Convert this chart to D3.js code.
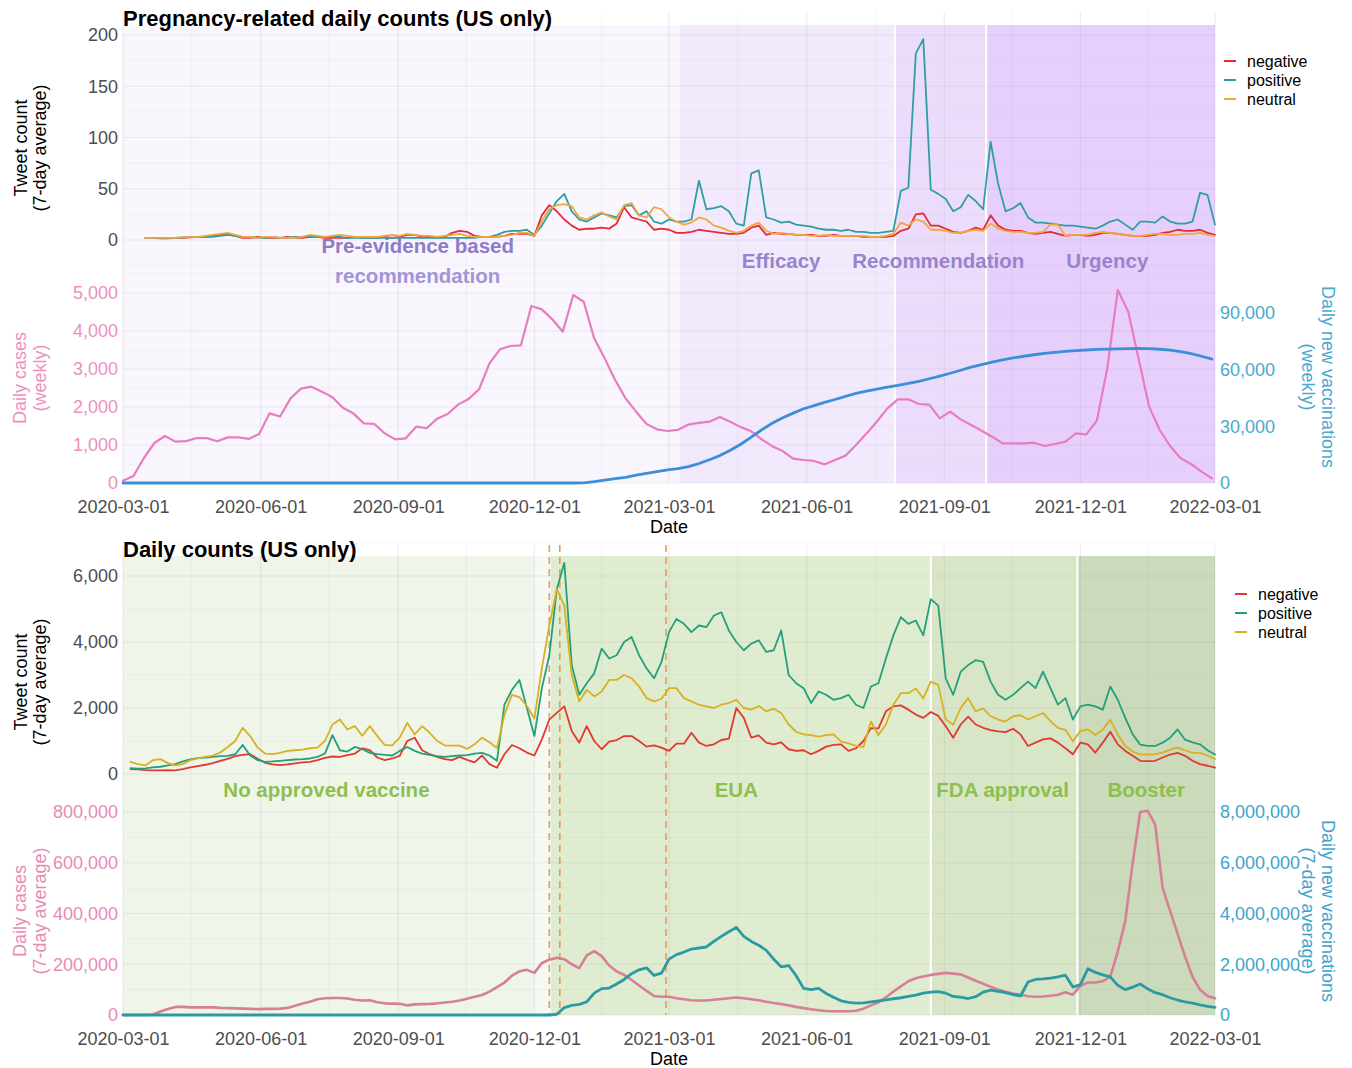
<!DOCTYPE html>
<html><head><meta charset="utf-8">
<script src="https://cdn.jsdelivr.net/npm/d3@7"></script>
<style>body{margin:0;background:#fff}svg{font-family:"Liberation Sans",Arial,sans-serif}</style>
</head><body><svg id="c" width="1352" height="1068"></svg>
<script>
// ---------------- DATA ----------------
const xTickDates = ["2020-03-01","2020-06-01","2020-09-01","2020-12-01","2021-03-01","2021-06-01","2021-09-01","2021-12-01","2022-03-01"];
const seriesNames = ["negative","positive","neutral"];

// Top panel (pregnancy-related) tweets: 5-day samples from 2020-03-16
const topTweetStart = "2020-03-16";
const negTop = [2,2,1.5,1.5,2,2,2.5,3,3,4, 5,6,4, 2,2,3,2,2,2,3,2, 2,3,3,2,2,2,2,3,2,2, 2,3,2,3,5,5,3,3,2,3, 7,9,8,4,3,3, 3,4,6,6,6,4,
 24,34,28,20,14,10,11,11, 12,11,16,32,22,20,18,10,11,10, 7,7,8,10,9,8,7,6,6,7, 12,14,5,7,6,6,5,5,5,4, 4,5,4,4,4,3,3,3,3,4,
 9,11,25,26,14,14,11,8,7,9, 12,10,24,14,10,9,9,7,6,7, 8,6,4,5,5,4,5,7,7,6, 5,4,4,4,5,7,8,10,9,9, 10,7,5];
const posTop = [2,2,2,2,2,2.5,3,3,3,3, 4,5,4, 3,3,2,2,3,2,2,3, 3,4,3,3,3,3,2,2,2,2, 2,2,2,2,2,2,2,2,2,2, 2,2,2,2,3,3, 5,8,9,9,10,5,
 14,26,38,45,28,20,18,22, 26,24,22,33,34,24,28,18,16,20, 18,18,20,58,30,31,33,28,16,14, 65,68,22,20,17,18,15,14,13,11, 10,10,9,10,8,8,7,7,8,9,
 48,51,182,196,49,45,40,28,32,44, 38,30,96,55,28,31,36,22,17,17, 16,15,14,14,13,12,11,14,18,20, 15,10,18,18,17,23,18,16,16,18, 46,44,15];
const neuTop = [2,2,2,2,2,2.5,3,3,4,5, 6,7,5, 3,3,2,3,3,2,2,2, 3,5,4,3,4,5,4,3,3,3, 3,4,5,4,6,5,4,4,3,4, 5,6,4,3,3,3, 3,4,5,7,7,4,
 18,30,34,35,33,22,20,24, 27,23,20,34,36,24,22,32,30,22, 18,15,17,22,20,14,12,9,7,9, 14,17,9,6,7,6,5,5,4,4, 5,4,4,4,4,4,3,3,4,6,
 17,14,20,18,10,10,9,7,7,9, 10,9,16,11,9,8,8,7,7,8, 15,15,4,5,5,5,7,8,7,6, 5,4,4,5,6,6,5,5,6,6, 7,5,4];

// Top panel cases & vaccinations (weekly) from 2020-03-01
const topWeeklyStart = "2020-03-01";
const casesTop = [60,184,658,1053,1237,1088,1100,1180,1180,1100, 1200,1200,1160,1290,1833,1750,2228,2483,2535,2404,
 2255,1982,1833,1570,1553,1307,1149,1175,1482,1440, 1693,1816,2062,2210,2465,3149,3518,3605,3623,4658,
 4570,4307,3982,4947,4771,3807,3280,2710,2228,1877, 1553,1412,1368,1400,1540,1580,1614,1740,1614,1470,
 1360,1150,970,840,640,605,580,491,605,720, 1000,1300,1620,1965,2202,2202,2079,2061,1702,1877,
 1675,1526,1377,1219,1044,1044,1044,1061,974,1026, 1088,1307,1281,1640,3017,5079,4509,3254,2009,1395,
 974,649,500,298,123];
const vaxTop = [0,0,0,0,0,0,0,0,0,0, 0,0,0,0,0,0,0,0,0,0, 0,0,0,0,0,0,0,0,0,0, 0,0,0,0,0,0,0,0,0,0, 0,0,0,0,
 100,700,1500,2300,3000,4200,5100,6000,7000,7600,8700,
 10300,12300,14500,17300,20500,24300,28200,31600,34500,37000,
 39300,41000,42700,44200,45900,47400,48600,49700,50700,51700,
 52800,53800,55200,56600,58100,59700,61300,62700,64000,65200,
 66200,67100,67900,68600,69200,69700,70100,70400,70700,70900,
 71050,71150,71200,71100,70800,70300,69600,68500,67100,65600];

// Bottom panel tweets: 5-day samples from 2020-03-06
const botTweetStart = "2020-03-06";
const negBot = [150,140,120,110,110,120,110,150,200,240, 280,330,400,460,540,580,600,460,340,290,
 270,290,320,350,370,420,490,530,520,570, 620,780,720,500,420,470,550,1000,1100,720,
 600,520,450,420,520,430,350,560,300,190, 600,880,780,650,560,1050,1650,1850,2050,1300,
 950,1450,1000,750,980,1030,1150,1150,1000,830, 870,800,700,920,920,1250,950,850,900,1030,
 1070,2000,1700,1100,1170,950,900,960,750,700, 720,600,700,830,880,900,700,780,1000,1390,
 1380,1900,2050,2080,1950,1800,1700,1880,1760,1450, 1100,1500,1740,1500,1400,1330,1290,1270,1370,1200,
 850,950,1050,1080,950,780,600,950,900,650, 950,1280,900,700,550,400,390,400,500,590, 640,550,400,300,250,190];
const posBot = [180,160,170,200,220,260,300,380,440,480, 500,520,540,550,600,880,560,420,370,380,
 400,420,440,450,470,520,620,1180,720,680, 820,750,640,600,580,560,700,820,700,620,
 580,540,520,540,560,570,620,640,560,400, 2100,2550,2850,2000,1150,2600,3600,5600,6400,3300,
 2400,2750,3050,3800,3500,3600,4000,4150,3600,3200, 2900,3400,4300,4700,4550,4300,4500,4450,4800,4900,
 4350,4000,3750,3950,4050,3700,3750,4350,3000,2750, 2600,2150,2500,2400,2250,2300,2400,2100,2000,2650,
 2750,3500,4200,4750,4550,4650,4200,5300,5100,2900, 2400,3100,3300,3450,3400,2800,2400,2250,2400,2600,
 2800,2600,3100,2600,2100,2300,1650,2050,2100,2050, 1950,2650,2250,1700,1200,890,850,850,950,1100, 1350,1040,960,900,720,590];
const neuBot = [370,300,260,420,450,330,260,300,420,470, 520,560,650,820,1000,1400,1150,800,620,600,
 640,700,720,740,780,800,1000,1500,1650,1350, 1450,1160,1450,1150,880,870,1100,1550,1200,1450,
 1250,1000,870,860,860,760,900,1100,960,790, 1800,2400,2330,2060,1680,3200,4500,5600,5100,3000,
 2200,2550,2350,2500,2850,2850,3000,2900,2650,2300, 2200,2280,2600,2600,2300,2200,2100,2050,2000,2100,
 2150,2250,2000,1950,2060,1900,1980,1850,1500,1280, 1200,1180,1130,1180,1200,980,930,850,820,1590,
 1180,1500,2100,2450,2450,2590,2290,2800,2700,1650, 1490,2000,2300,1900,1990,1750,1650,1590,1750,1780,
 1650,1750,1850,1600,1400,1340,990,1300,1350,1180, 1350,1640,1200,850,680,590,590,600,650,740, 800,720,640,640,560,460];

// Bottom panel cases & vaccinations (7-day average): 5-day samples from 2020-03-01
const botDailyStart = "2020-03-01";
const casesBot = [0,0,0,0,2000,14000,24000,32000,32000,30000, 30000,30000,30000,28000,27000,26000,25000,24000,23000,24000,
 24000,25000,28000,36000,45000,52000,62000,66000,67000,67000, 65000,60000,57000,58000,50000,46000,45000,44000,38000,42000,
 43000,44000,46000,49000,52000,57000,64000,72000,79000,92000, 110000,128000,155000,172000,178000,166000,205000,218000,226000,220000,
 200000,185000,235000,252000,232000,195000,172000,158000,138000,116000, 95000,75000,72000,72000,66000,62000,58000,57000,57000,60000,
 63000,66000,69000,66000,62000,58000,52000,47000,43000,38000, 32000,27000,23000,19000,16000,15000,15000,15000,17000,25000,
 38000,50000,70000,92000,113000,133000,145000,152000,158000,162000, 166000,163000,160000,148000,135000,123000,111000,100000,92000,85000,
 80000,74000,72000,73000,76000,80000,90000,80000,115000,128000, 128000,133000,151000,250000,370000,600000,800000,805000,750000,500000,
 410000,320000,230000,150000,100000,75000,66000];
const vaxBot = [0,0,0,0,0,0,0,0,0,0, 0,0,0,0,0,0,0,0,0,0, 0,0,0,0,0,0,0,0,0,0, 0,0,0,0,0,0,0,0,0,0,
 0,0,0,0,0,0,0,0,0,0, 0,0,0,0,0,0,0,0,
 30000,290000,380000,420000,520000,860000,1040000,1060000,1220000,
 1400000,1630000,1780000,1860000,1560000,1650000,2200000,2380000,2480000,2600000,
 2640000,2680000,2900000,3100000,3280000,3450000,3100000,2900000,2750000,2550000,
 2200000,1900000,1950000,1550000,1050000,1000000,1050000,850000,700000,560000,
 500000,470000,480000,520000,560000,600000,640000,680000,730000,780000,
 860000,900000,920000,860000,730000,700000,650000,720000,900000,980000,
 930000,880000,800000,750000,1300000,1400000,1420000,1450000,1500000,1570000,
 1100000,1200000,1820000,1680000,1580000,1500000,1170000,1000000,1100000,1220000,
 1030000,880000,800000,680000,590000,520000,470000,400000,340000,300000];

// Phases / events
const topPhaseStart = ["2020-03-01","2021-03-08","2021-07-30","2021-09-29"];
const topPhaseEnd   = ["2021-03-08","2021-07-30","2021-09-29","2022-03-01"];
const topPhaseLabels = [["Pre-evidence based","recommendation"],["Efficacy"],["Recommendation"],["Urgency"]];
const topLabelDates = ["2020-09-14","2021-05-15","2021-08-28","2021-12-19"];
const topBreaks = ["2021-07-30","2021-09-29"];
const botPhaseStart = ["2020-03-01","2020-12-12","2021-08-23","2021-11-29"];
const botPhaseEnd   = ["2020-12-01","2021-08-23","2021-11-29","2022-03-01"];
const botPhaseLabels = [["No approved vaccine"],["EUA"],["FDA approval"],["Booster"]];
const botLabelDates = ["2020-07-15","2021-04-15","2021-10-10","2022-01-14"];
const botBreaks = ["2021-08-23","2021-11-29"];
const euaDates = ["2020-12-11","2020-12-18","2021-02-27"];

const twTicksTop = [0,50,100,150,200];
const caseTicksTop = [0,1000,2000,3000,4000,5000];
const vaxTicksTop = [0,30000,60000,90000];
const twTicksBot = [0,2000,4000,6000];
const caseTicksBot = [0,200000,400000,600000,800000];
const vaxTicksBot = [0,2000000,4000000,6000000,8000000];

// ---------------- STYLE ----------------
const FONT = 18;
const topShade = ["#f9f6fe","#f2e9fd","#ecdcfc","#e7cffc"];
const botShade = ["#eff5e8","#e0ecd0","#d8e6c7","#cadaba"];
const topColors = {negative:"#e8283a", positive:"#2f9ea3", neutral:"#efa93a"};
const botColors = {negative:"#e0392f", positive:"#23a07a", neutral:"#d8b020"};

const svg = d3.select("#c");
const P = s => new Date(s + "T00:00:00Z");
const x = d3.scaleUtc().domain([P("2020-03-01"), P("2022-03-01")]).range([123,1215]);
function series(start, step, vals){ const t0 = P(start).getTime(); return vals.map((v,i)=>({date:new Date(t0+i*step*864e5), v})); }

function drawLine(data, y, color, w){
  svg.append("path").datum(data)
    .attr("d", d3.line().x(d=>x(d.date)).y(d=>y(d.v)))
    .attr("fill","none").attr("stroke",color).attr("stroke-width",w)
    .attr("stroke-linejoin","round").attr("stroke-linecap","round");
}
function vtext(tx, ty, ang, txt, color){
  svg.append("text").attr("transform",`translate(${tx},${ty}) rotate(${ang})`)
    .attr("text-anchor","middle").attr("font-size",FONT).attr("fill",color).text(txt);
}
function axisY(scale, ticks, side, xpos, color){
  const ax = (side==="left" ? d3.axisLeft(scale) : d3.axisRight(scale))
    .tickValues(ticks).tickFormat(d3.format(",")).tickSize(0).tickPadding(5);
  const g = svg.append("g").attr("transform",`translate(${xpos},0)`).call(ax);
  g.select(".domain").remove();
  g.selectAll("text").attr("font-size",FONT).attr("fill",color).attr("font-family","Liberation Sans, Arial, sans-serif");
}
function axisX(ypos){
  const ax = d3.axisBottom(x).tickValues(xTickDates.map(P)).tickFormat(d3.utcFormat("%Y-%m-%d")).tickSize(0).tickPadding(17);
  const g = svg.append("g").attr("transform",`translate(0,${ypos})`).call(ax);
  g.select(".domain").remove();
  g.selectAll("text").attr("font-size",FONT).attr("fill","#4d4d4d").attr("font-family","Liberation Sans, Arial, sans-serif");
}
function vgrid(y0, y1){
  const ds = xTickDates.map(P);
  for(let i=0;i<ds.length;i++){
    svg.append("line").attr("x1",x(ds[i])).attr("x2",x(ds[i])).attr("y1",y0).attr("y2",y1)
      .attr("stroke","rgba(120,120,150,0.13)").attr("stroke-width",1.1);
    if(i<ds.length-1){
      const m = new Date((ds[i].getTime()+ds[i+1].getTime())/2);
      svg.append("line").attr("x1",x(m)).attr("x2",x(m)).attr("y1",y0).attr("y2",y1)
        .attr("stroke","rgba(120,120,150,0.09)").attr("stroke-width",0.8);
    }
  }
}
function hgrid(scale, vals, major){
  vals.forEach(v=>{
    svg.append("line").attr("x1",123).attr("x2",1215).attr("y1",scale(v)).attr("y2",scale(v))
      .attr("stroke", major ? "rgba(120,120,150,0.13)" : "rgba(120,120,150,0.08)").attr("stroke-width", major?1.1:0.8);
  });
}
function legend(x0, yMid, colors){
  const gap = 19;
  seriesNames.forEach((n,i)=>{
    const yy = yMid + (i-1)*gap;
    svg.append("line").attr("x1",x0).attr("x2",x0+12).attr("y1",yy).attr("y2",yy).attr("stroke",colors[n]).attr("stroke-width",2);
    svg.append("text").attr("x",x0+23).attr("y",yy).attr("dy","0.35em").attr("font-size",16).attr("fill","#000").text(n);
  });
}

// ================= TOP PANEL =================
const yTw1 = d3.scaleLinear().domain([0,200]).range([240,35]);
const yCase1 = d3.scaleLinear().domain([0,5000]).range([483,293]);
const yVax1 = d3.scaleLinear().domain([0,90000]).range([483,313]);

topPhaseStart.forEach((s,i)=>{
  svg.append("rect").attr("x",x(P(s))).attr("y",25).attr("width",x(P(topPhaseEnd[i]))-x(P(s))).attr("height",483-25).attr("fill",topShade[i]);
});
vgrid(12,483);
hgrid(yTw1,[0,50,100,150,200],true); hgrid(yTw1,[-25,25,75,125,175],false);
hgrid(yCase1,caseTicksTop,true); hgrid(yCase1,[500,1500,2500,3500,4500,5500],false);
topBreaks.forEach(d=>svg.append("line").attr("x1",x(P(d))).attr("x2",x(P(d))).attr("y1",25).attr("y2",483).attr("stroke","#fff").attr("stroke-width",2));

topPhaseLabels.forEach((lines,i)=>{
  const cx = x(P(topLabelDates[i]));
  if(lines.length===2){
    svg.append("text").attr("x",cx).attr("y",253).attr("text-anchor","middle").attr("font-size",20.5).attr("font-weight","bold").attr("fill","#8e7bc8").text(lines[0]);
    svg.append("text").attr("x",cx).attr("y",283).attr("text-anchor","middle").attr("font-size",20.5).attr("font-weight","bold").attr("fill","#a294d6").text(lines[1]);
  } else {
    svg.append("text").attr("x",cx).attr("y",268).attr("text-anchor","middle").attr("font-size",20.5).attr("font-weight","bold").attr("fill","#9784cc").text(lines[0]);
  }
});

drawLine(series(topWeeklyStart,7,casesTop), yCase1, "#e87cc0", 2.2);
drawLine(series(topWeeklyStart,7,vaxTop), yVax1, "#3b8fd9", 2.8);
drawLine(series(topTweetStart,5,negTop), yTw1, topColors.negative, 1.8);
drawLine(series(topTweetStart,5,posTop), yTw1, topColors.positive, 1.8);
drawLine(series(topTweetStart,5,neuTop), yTw1, topColors.neutral, 1.8);

axisY(yTw1, twTicksTop, "left", 123, "#4d4d4d");
axisY(yCase1, caseTicksTop, "left", 123, "#ee8fbe");
axisY(yVax1, vaxTicksTop, "right", 1215, "#4aa8cf");
axisX(483);

svg.append("text").attr("x",123).attr("y",26).attr("font-size",22).attr("font-weight","bold").attr("fill","#000").text("Pregnancy-related daily counts (US only)");
vtext(27,148,-90,"Tweet count","#000"); vtext(46,148,-90,"(7-day average)","#000");
vtext(26,378,-90,"Daily cases","#ee8fbe"); vtext(46,378,-90,"(weekly)","#ee8fbe");
vtext(1322,377,90,"Daily new vaccinations","#4aa8cf"); vtext(1302,377,90,"(weekly)","#4aa8cf");
svg.append("text").attr("x",669).attr("y",533).attr("text-anchor","middle").attr("font-size",FONT).attr("fill","#000").text("Date");
legend(1224, 80, topColors);

// ================= BOTTOM PANEL =================
const yTw2 = d3.scaleLinear().domain([0,6000]).range([774,576]);
const yCase2 = d3.scaleLinear().domain([0,800000]).range([1015,812]);
const yVax2 = d3.scaleLinear().domain([0,8000000]).range([1015,812]);

botPhaseStart.forEach((s,i)=>{
  svg.append("rect").attr("x",x(P(s))).attr("y",556).attr("width",x(P(botPhaseEnd[i]))-x(P(s))).attr("height",1015-556).attr("fill",botShade[i]);
});
svg.append("rect").attr("x",x(P(botPhaseEnd[0]))).attr("y",556).attr("width",x(P(botPhaseStart[1]))-x(P(botPhaseEnd[0]))).attr("height",1015-556).attr("fill","#f6f9f2");
vgrid(545,1015);
hgrid(yTw2,[0,2000,4000,6000],true); hgrid(yTw2,[1000,3000,5000,7000],false);
hgrid(yCase2,caseTicksBot,true); hgrid(yCase2,[100000,300000,500000,700000],false);
botBreaks.forEach(d=>svg.append("line").attr("x1",x(P(d))).attr("x2",x(P(d))).attr("y1",556).attr("y2",1015).attr("stroke","#fff").attr("stroke-width",2));

botPhaseLabels.forEach((lines,i)=>{
  svg.append("text").attr("x",x(P(botLabelDates[i]))).attr("y",797).attr("text-anchor","middle").attr("font-size",20.5).attr("font-weight","bold").attr("fill","#8dbf50").text(lines[0]);
});
euaDates.forEach(d=>svg.append("line").attr("x1",x(P(d))).attr("x2",x(P(d))).attr("y1",545).attr("y2",1015)
  .attr("stroke","#e89a5a").attr("stroke-width",1.6).attr("stroke-dasharray","7,5"));

drawLine(series(botDailyStart,5,casesBot), yCase2, "#d77f97", 2.6);
drawLine(series(botDailyStart,5,vaxBot), yVax2, "#2a9ba3", 2.8);
drawLine(series(botTweetStart,5,negBot), yTw2, botColors.negative, 1.8);
drawLine(series(botTweetStart,5,posBot), yTw2, botColors.positive, 1.8);
drawLine(series(botTweetStart,5,neuBot), yTw2, botColors.neutral, 1.8);

axisY(yTw2, twTicksBot, "left", 123, "#4d4d4d");
axisY(yCase2, caseTicksBot, "left", 123, "#e98ab6");
axisY(yVax2, vaxTicksBot, "right", 1215, "#3ea4cb");
axisX(1015);

svg.append("text").attr("x",123).attr("y",557).attr("font-size",22).attr("font-weight","bold").attr("fill","#000").text("Daily counts (US only)");
vtext(27,682,-90,"Tweet count","#000"); vtext(46,682,-90,"(7-day average)","#000");
vtext(26,911,-90,"Daily cases","#e98ab6"); vtext(46,911,-90,"(7-day average)","#e98ab6");
vtext(1322,911,90,"Daily new vaccinations","#3ea4cb"); vtext(1302,911,90,"(7-day average)","#3ea4cb");
svg.append("text").attr("x",669).attr("y",1065).attr("text-anchor","middle").attr("font-size",FONT).attr("fill","#000").text("Date");
legend(1235, 613, botColors);
</script></body></html>
